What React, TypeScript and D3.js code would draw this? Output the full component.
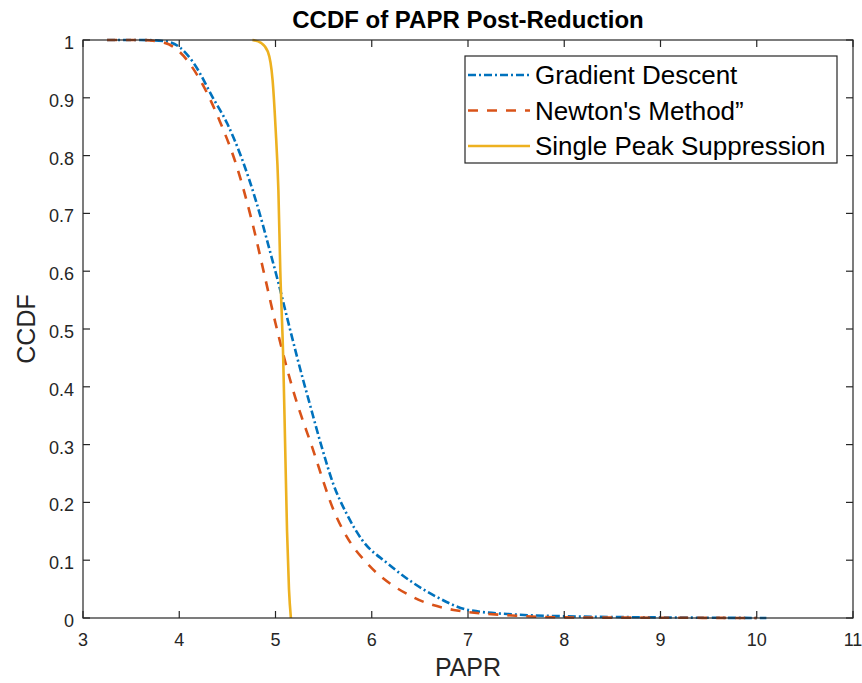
import React from "react";
import * as d3 from "d3";

// PAPR (x) and CCDF (y) samples for each reduction method
const gradientPapr = [3.25, 3.6, 3.85, 4.0, 4.15, 4.35, 4.5, 4.65, 4.8, 4.95, 5.03, 5.15, 5.29, 5.34, 5.48, 5.6, 5.74, 5.9, 6.16, 6.68, 7.0, 7.5, 8.0, 9.0, 10.1];
const gradientCcdf = [1.0, 1.0, 0.998, 0.988, 0.96, 0.9, 0.855, 0.795, 0.72, 0.63, 0.58, 0.5, 0.41, 0.38, 0.296, 0.232, 0.18, 0.135, 0.095, 0.036, 0.014, 0.006, 0.003, 0.001, 0.0];

const newtonPapr = [3.25, 3.6, 3.85, 4.0, 4.22, 4.42, 4.6, 4.75, 4.89, 5.0, 5.19, 5.38, 5.62, 5.78, 5.95, 6.43, 6.85, 7.5, 8.0, 9.0, 10.0];
const newtonCcdf = [1.0, 1.0, 0.995, 0.98, 0.93, 0.86, 0.78, 0.69, 0.59, 0.51, 0.39, 0.296, 0.18, 0.13, 0.095, 0.036, 0.014, 0.004, 0.001, 0.0005, 0.0];

const singlePapr = [4.76, 4.85, 4.92, 4.97, 5.0, 5.03, 5.05, 5.08, 5.1, 5.12, 5.14, 5.16];
const singleCcdf = [1.0, 0.995, 0.98, 0.93, 0.85, 0.74, 0.6, 0.45, 0.3, 0.15, 0.05, 0.0];

const xTicks = [3, 4, 5, 6, 7, 8, 9, 10, 11];
const yTicks = [0, 0.1, 0.2, 0.3, 0.4, 0.5, 0.6, 0.7, 0.8, 0.9, 1];

const seriesNames = ["Gradient Descent", "Newton's Method\u201d", "Single Peak Suppression"];

const W = 862;
const H = 683;
const left = 83;
const right = 853;
const top = 40;
const bottom = 618;
const font = "Arial, 'Liberation Sans', Helvetica, sans-serif";
const axisColor = "#262626";

export default function App() {
  const x = d3.scaleLinear().domain([3, 11]).range([left, right]);
  const y = d3.scaleLinear().domain([0, 1]).range([bottom, top]);

  const line = d3
    .line<[number, number]>()
    .x((d) => x(d[0]))
    .y((d) => y(d[1]))
    .curve(d3.curveMonotoneX);

  const zip = (a: number[], b: number[]) => a.map((v, i) => [v, b[i]] as [number, number]);

  const series = [
    { name: seriesNames[0], data: zip(gradientPapr, gradientCcdf), color: "#0072BD", dash: "8 3 2 3" },
    { name: seriesNames[1], data: zip(newtonPapr, newtonCcdf), color: "#D95319", dash: "10 9" },
    { name: seriesNames[2], data: zip(singlePapr, singleCcdf), color: "#EDB120", dash: "" },
  ];

  const tickLen = 7;
  const legX = 465;
  const legY = 56;
  const legW = 372;
  const legH = 107;

  return (
    <svg width={W} height={H} style={{ display: "block", position: "absolute", left: 0, top: 0, background: "#fff" }}>
      <rect x={0} y={0} width={W} height={H} fill="#fff" />
      <text x={(left + right) / 2} y={28} textAnchor="middle" fontFamily={font} fontWeight="bold" fontSize={24} fill="#000">
        CCDF of PAPR Post-Reduction
      </text>

      {/* data */}
      <g>
        {series.map((s) => (
          <path
            key={s.name}
            d={line(s.data) || ""}
            fill="none"
            stroke={s.color}
            strokeWidth={2.6}
            strokeDasharray={s.dash || undefined}
          />
        ))}
      </g>

      {/* axes box */}
      <rect x={left} y={top} width={right - left} height={bottom - top} fill="none" stroke={axisColor} strokeWidth={1.2} />
      {xTicks.map((t) => (
        <g key={"x" + t}>
          <line x1={x(t)} x2={x(t)} y1={bottom} y2={bottom - tickLen} stroke={axisColor} strokeWidth={1.2} />
          <line x1={x(t)} x2={x(t)} y1={top} y2={top + tickLen} stroke={axisColor} strokeWidth={1.2} />
          <text x={x(t)} y={646} textAnchor="middle" fontFamily={font} fontSize={18} fill={axisColor}>
            {t}
          </text>
        </g>
      ))}
      {yTicks.map((t) => (
        <g key={"y" + t}>
          <line x1={left} x2={left + tickLen} y1={y(t)} y2={y(t)} stroke={axisColor} strokeWidth={1.2} />
          <line x1={right} x2={right - tickLen} y1={y(t)} y2={y(t)} stroke={axisColor} strokeWidth={1.2} />
          <text x={74} y={y(t) + 9} textAnchor="end" fontFamily={font} fontSize={18} fill={axisColor}>
            {d3.format("")(t)}
          </text>
        </g>
      ))}
      <text x={(left + right) / 2} y={676} textAnchor="middle" fontFamily={font} fontSize={25} fill={axisColor}>
        PAPR
      </text>
      <text
        transform={`translate(35, ${(top + bottom) / 2}) rotate(-90)`}
        textAnchor="middle"
        fontFamily={font}
        fontSize={25}
        fill={axisColor}
      >
        CCDF
      </text>

      {/* legend */}
      <rect x={legX} y={legY} width={legW} height={legH} fill="#fff" stroke={axisColor} strokeWidth={1.2} />
      {series.map((s, i) => {
        const cy = 75 + i * 35.5;
        return (
          <g key={"leg" + s.name}>
            <line
              x1={legX + 3}
              x2={legX + 65}
              y1={cy}
              y2={cy}
              stroke={s.color}
              strokeWidth={2.6}
              strokeDasharray={s.dash || undefined}
            />
            <text x={legX + 70} y={cy + 9} fontFamily={font} fontSize={26} fill="#000">
              {s.name}
            </text>
          </g>
        );
      })}
    </svg>
  );
}
